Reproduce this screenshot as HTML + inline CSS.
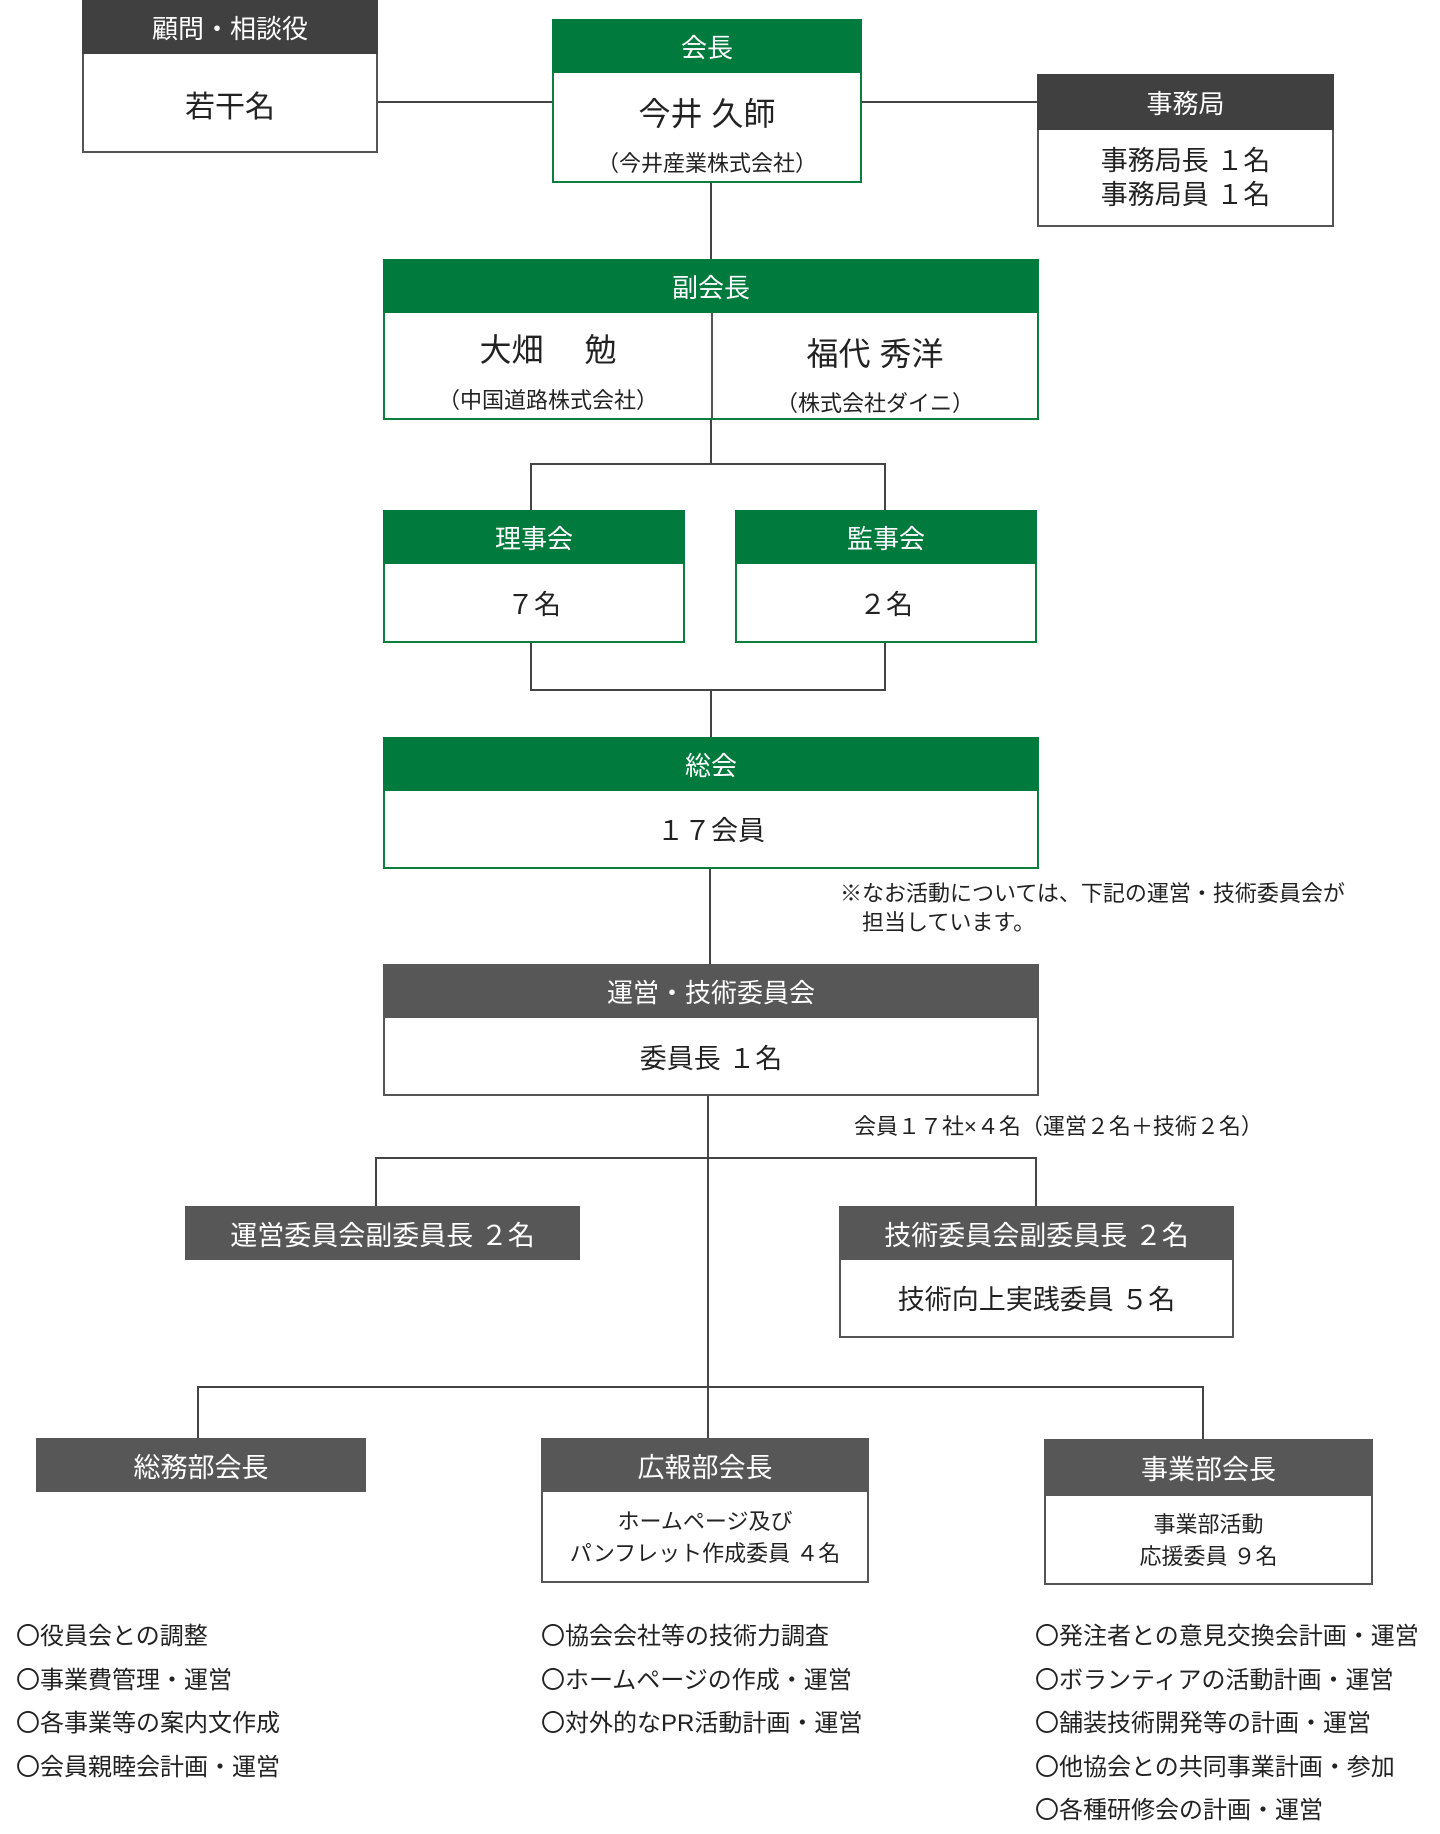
<!DOCTYPE html>
<html><head><meta charset="utf-8"><style>
body{margin:0;width:1440px;height:1834px;background:#fff;position:relative;font-family:"Liberation Sans","Noto Sans CJK JP",sans-serif;color:#222;overflow:hidden}
.b{position:absolute;box-sizing:border-box;background:#fff}
.g{border:2px solid #0c7f3f}
.d{border:2px solid #555}
.h{position:absolute;left:-2px;right:-2px;top:-2px;color:#fff;font-size:26px;display:flex;align-items:center;justify-content:center}
.hg{background:#007a3d}
.hd{background:#404040}
.hm{background:#575757}
.c{position:absolute;left:0;right:0;text-align:center}
.l{position:absolute;background:#444}
.t{position:absolute;font-size:23px;white-space:nowrap}
</style></head><body>
<div class="l" style="left:378px;top:101px;width:174px;height:2px"></div>
<div class="l" style="left:862px;top:101px;width:175px;height:2px"></div>
<div class="l" style="left:710px;top:183px;width:2px;height:76px"></div>
<div class="l" style="left:710px;top:420px;width:2px;height:44px"></div>
<div class="l" style="left:530px;top:463px;width:356px;height:2px"></div>
<div class="l" style="left:530px;top:463px;width:2px;height:47px"></div>
<div class="l" style="left:884px;top:463px;width:2px;height:47px"></div>
<div class="l" style="left:530px;top:643px;width:2px;height:47px"></div>
<div class="l" style="left:884px;top:643px;width:2px;height:47px"></div>
<div class="l" style="left:530px;top:689px;width:356px;height:2px"></div>
<div class="l" style="left:710px;top:689px;width:2px;height:48px"></div>
<div class="l" style="left:709px;top:869px;width:2px;height:95px"></div>
<div class="l" style="left:707px;top:1096px;width:2px;height:342px"></div>
<div class="l" style="left:375px;top:1157px;width:662px;height:2px"></div>
<div class="l" style="left:375px;top:1157px;width:2px;height:49px"></div>
<div class="l" style="left:1035px;top:1157px;width:2px;height:49px"></div>
<div class="l" style="left:197px;top:1386px;width:1007px;height:2px"></div>
<div class="l" style="left:197px;top:1386px;width:2px;height:52px"></div>
<div class="l" style="left:1202px;top:1386px;width:2px;height:53px"></div>

<div class="b d" style="left:82px;top:0;width:296px;height:153px">
<div class="h hd" style="height:54px">顧問・相談役</div>
<div class="c" style="top:80px;font-size:30px">若干名</div></div>
<div class="b g" style="left:552px;top:19px;width:310px;height:164px">
<div class="h hg" style="height:54px">会長</div>
<div class="c" style="top:68px;font-size:32px">今井 久師</div>
<div class="c" style="top:125px;font-size:22px">（今井産業株式会社）</div></div>
<div class="b d" style="left:1037px;top:74px;width:297px;height:153px">
<div class="h hd" style="height:56px">事務局</div>
<div class="c" style="top:68px;font-size:27px;line-height:34px">事務局長 １名<br>事務局員 １名</div></div>
<div class="b g" style="left:383px;top:259px;width:656px;height:161px">
<div class="h hg" style="height:54px">副会長</div>
<div style="position:absolute;left:326px;top:52px;width:2px;bottom:0;background:#555"></div>
<div style="position:absolute;left:0;width:326px;top:64px;text-align:center;font-size:32px">大畑　 勉</div>
<div style="position:absolute;left:0;width:326px;top:122px;text-align:center;font-size:22px">（中国道路株式会社）</div>
<div style="position:absolute;left:328px;right:0;top:68px;text-align:center;font-size:32px">福代 秀洋</div>
<div style="position:absolute;left:328px;right:0;top:125px;text-align:center;font-size:22px">（株式会社ダイニ）</div></div>
<div class="b g" style="left:383px;top:510px;width:302px;height:133px">
<div class="h hg" style="height:54px">理事会</div>
<div class="c" style="top:71px;font-size:27px">７名</div></div>
<div class="b g" style="left:735px;top:510px;width:302px;height:133px">
<div class="h hg" style="height:54px">監事会</div>
<div class="c" style="top:71px;font-size:27px">２名</div></div>
<div class="b g" style="left:383px;top:737px;width:656px;height:132px">
<div class="h hg" style="height:54px">総会</div>
<div class="c" style="top:70px;font-size:27px">１７会員</div></div>
<div class="t" style="left:840px;top:879px;font-size:22px;line-height:29px">※なお活動については、下記の運営・技術委員会が<br>　担当しています。</div>
<div class="b d" style="left:383px;top:964px;width:656px;height:132px">
<div class="h hm" style="height:54px">運営・技術委員会</div>
<div class="c" style="top:71px;font-size:27px">委員長 １名</div></div>
<div class="t" style="left:854px;top:1109px;font-size:22px">会員１７社×４名（運営２名＋技術２名）</div>
<div class="b" style="left:185px;top:1206px;width:395px;height:54px;background:#575757;color:#fff;font-size:27px;display:flex;align-items:center;justify-content:center">運営委員会副委員長 ２名</div>
<div class="b d" style="left:839px;top:1206px;width:395px;height:132px">
<div class="h hm" style="height:54px;font-size:27px">技術委員会副委員長 ２名</div>
<div class="c" style="top:70px;font-size:27px">技術向上実践委員 ５名</div></div>
<div class="b" style="left:36px;top:1438px;width:330px;height:54px;background:#575757;color:#fff;font-size:27px;display:flex;align-items:center;justify-content:center">総務部会長</div>
<div class="b d" style="left:541px;top:1438px;width:328px;height:145px">
<div class="h hm" style="height:54px;font-size:27px">広報部会長</div>
<div class="c" style="top:66px;font-size:22px;line-height:32px">ホームページ及び<br>パンフレット作成委員 ４名</div></div>
<div class="b d" style="left:1044px;top:1439px;width:329px;height:146px">
<div class="h hm" style="height:57px;font-size:27px">事業部会長</div>
<div class="c" style="top:68px;font-size:22px;line-height:32px">事業部活動<br>応援委員 ９名</div></div>
<div class="t" style="left:16px;top:1615px;line-height:43.6px;font-size:24px">〇役員会との調整<br>〇事業費管理・運営<br>〇各事業等の案内文作成<br>〇会員親睦会計画・運営</div>
<div class="t" style="left:541px;top:1615px;line-height:43.6px;font-size:24px">〇協会会社等の技術力調査<br>〇ホームページの作成・運営<br>〇対外的なPR活動計画・運営</div>
<div class="t" style="left:1035px;top:1615px;line-height:43.6px;font-size:24px">〇発注者との意見交換会計画・運営<br>〇ボランティアの活動計画・運営<br>〇舗装技術開発等の計画・運営<br>〇他協会との共同事業計画・参加<br>〇各種研修会の計画・運営</div>
</body></html>
